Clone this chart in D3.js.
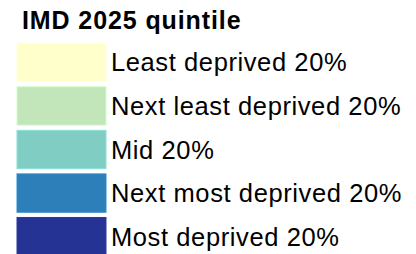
<!DOCTYPE html>
<html><head><meta charset="utf-8">
<script src="https://cdn.jsdelivr.net/npm/d3@7"></script>
<style>html,body{margin:0;padding:0;background:#fff;}</style>
</head><body>
<script>
const title = "IMD 2025 quintile";
const categories = ["Least deprived 20%","Next least deprived 20%","Mid 20%","Next most deprived 20%","Most deprived 20%"];
const colors = ["#ffffcc","#c2e6b9","#7fcdc3","#2c7fb8","#253494"];

const W = 416, H = 254;
const svg = d3.select("body").append("svg").attr("width", W).attr("height", H);

const y = d3.scaleBand().domain(categories).range([41, 258]).paddingInner(0.12).paddingOuter(0.05);
const color = d3.scaleOrdinal().domain(categories).range(colors);

svg.append("text").attr("x", 22).attr("y", 29)
  .attr("font-family", "Liberation Sans, Arial, sans-serif")
  .attr("font-weight", "bold").attr("font-size", 25).attr("letter-spacing", 0.9)
  .attr("fill", "#000").text(title);

const g = svg.selectAll("g.item").data(categories).join("g").attr("class","item");
g.append("rect").attr("x", 17).attr("width", 89)
  .attr("y", d => y(d)).attr("height", y.bandwidth())
  .attr("fill", d => color(d))
  .attr("stroke", d => d3.color(color(d)).brighter(0.25)).attr("stroke-width", 1);
g.append("text").attr("x", 111).attr("y", d => y(d) + y.bandwidth()/2 + 9)
  .attr("font-family", "Liberation Sans, Arial, sans-serif")
  .attr("font-size", 25.5).attr("letter-spacing", 0.6)
  .attr("fill", "#000").text(d => d);
</script>
</body></html>
